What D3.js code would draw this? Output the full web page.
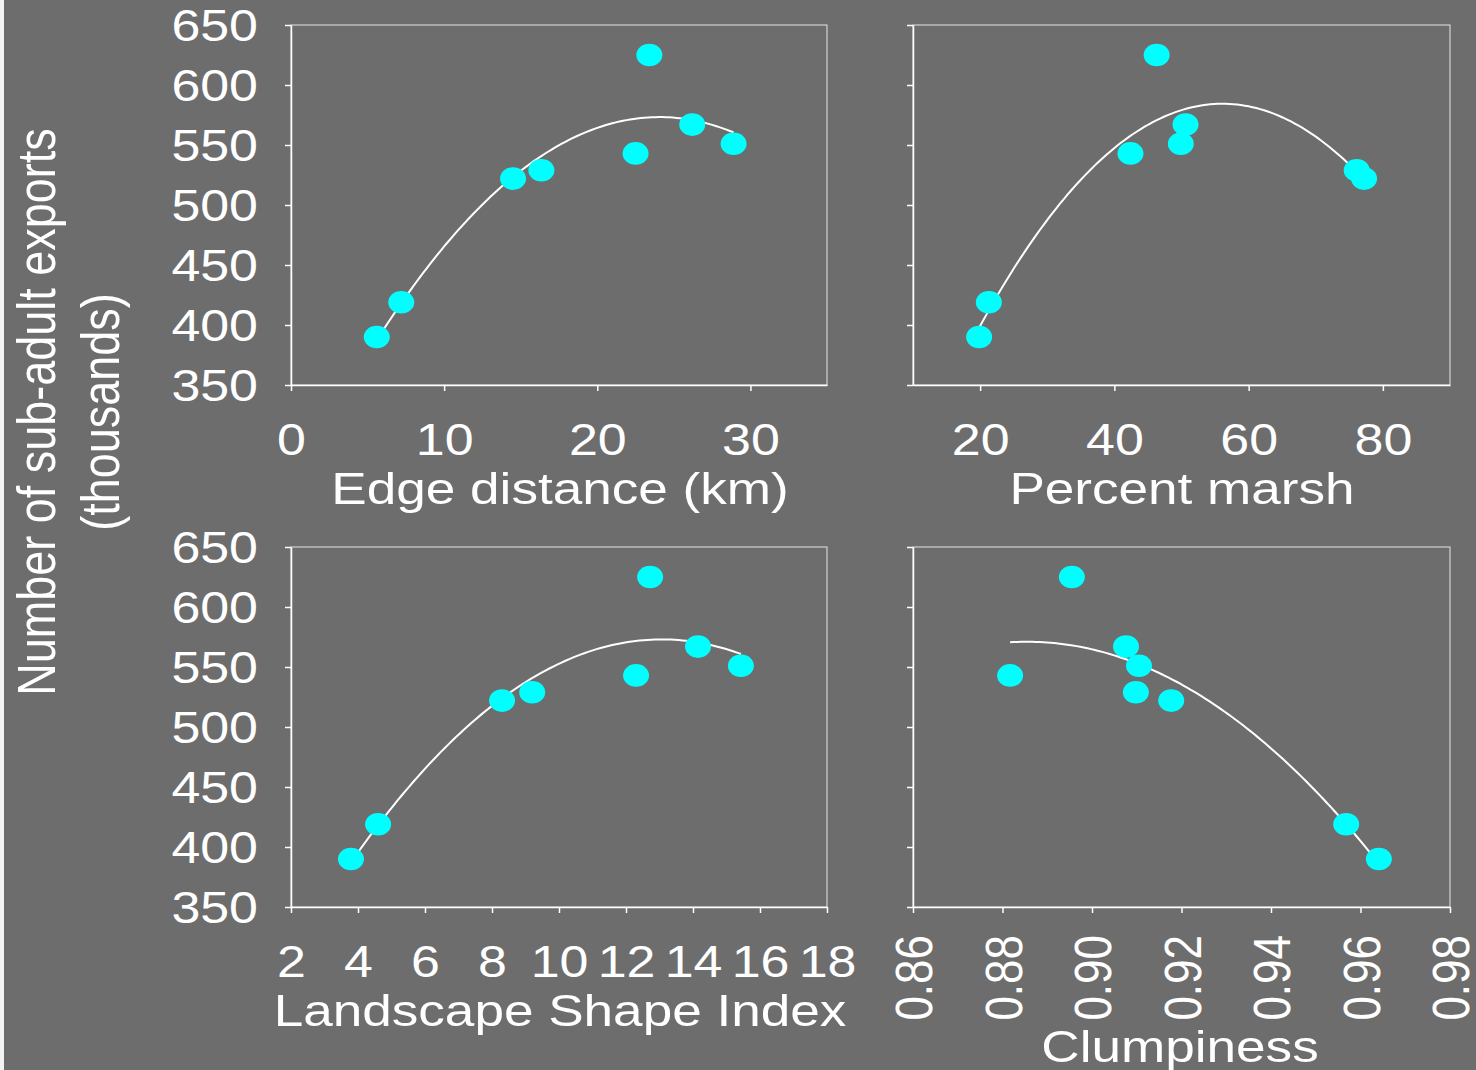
<!DOCTYPE html>
<html lang="en">
<head>
    <meta charset="UTF-8">
    <title>Sub-adult exports</title>
    <script src="https://cdn.jsdelivr.net/npm/d3@7"></script>
    <style>
        body { margin: 0; background: #6d6d6d; }
        svg { display: block; }
        text { font-family: "Liberation Sans", Arial, sans-serif; fill: #fff; }
    </style>
</head>
<body>
<svg width="1476" height="1070"></svg>
<script>
    // one y series, shared by the four panels
    const exportsK = [390, 419, 522, 529, 543, 625, 567, 551];
    const edgeDistance = [5.6, 7.2, 14.5, 16.35, 22.5, 23.4, 26.2, 28.9];
    const percentMarsh = [19.85, 21.3, 77.2, 76.1, 42.4, 46.3, 50.6, 49.9];
    const shapeIndex = [3.79, 4.6, 8.3, 9.2, 12.3, 12.72, 14.15, 15.43];
    const clumpiness = [0.9641, 0.9568, 0.9177, 0.9098, 0.8817, 0.8955, 0.9076, 0.9105];

    const yTicks = [350, 400, 450, 500, 550, 600, 650];
    const edgeTicks = [0, 10, 20, 30];
    const marshTicks = [20, 40, 60, 80];
    const shapeTicks = [2, 4, 6, 8, 10, 12, 14, 16, 18];
    const clumpTicks = [0.86, 0.88, 0.90, 0.92, 0.94, 0.96, 0.98];

    const SX = 1.18; // the source picture is stretched sideways
    const svg = d3.select("svg");

    svg.append("rect").attr("x", 0).attr("y", 0).attr("width", 4).attr("height", 1070).attr("fill", "#f4f4f4");

    // least squares, order 2
    function quadFit(xs, ys) {
        const n = xs.length;
        let s = [0, 0, 0, 0, 0], t = [0, 0, 0];
        for (let i = 0; i < n; i++) {
            for (let k = 0; k < 5; k++) s[k] += Math.pow(xs[i], k);
            for (let k = 0; k < 3; k++) t[k] += ys[i] * Math.pow(xs[i], k);
        }
        const m = [[s[0], s[1], s[2], t[0]], [s[1], s[2], s[3], t[1]], [s[2], s[3], s[4], t[2]]];
        for (let c = 0; c < 3; c++) {
            for (let r = c + 1; r < 3; r++) {
                const f = m[r][c] / m[c][c];
                for (let k = c; k < 4; k++) m[r][k] -= f * m[c][k];
            }
        }
        const b = [0, 0, 0];
        for (let r = 2; r >= 0; r--) {
            let v = m[r][3];
            for (let k = r + 1; k < 3; k++) v -= m[r][k] * b[k];
            b[r] = v / m[r][r];
        }
        return x => b[0] + b[1] * x + b[2] * x * x;
    }

    function panel(opt) {
        const g = svg.append("g");
        const x = d3.scaleLinear().domain(opt.xDomain).range([opt.left, opt.right]);
        const y = d3.scaleLinear().domain([350, 650]).range([opt.bottom, opt.top]);

        g.append("rect")
            .attr("x", opt.left).attr("y", opt.top)
            .attr("width", opt.right - opt.left).attr("height", opt.bottom - opt.top)
            .attr("fill", "none").attr("stroke", "#e6e6e6").attr("stroke-width", 1);

        const ya = g.append("g")
            .attr("transform", `translate(${opt.left},0)`)
            .call(d3.axisLeft(y).tickValues(yTicks).tickSize(6).tickSizeOuter(0));
        ya.select(".domain").attr("stroke", "#fff").attr("stroke-width", 1.5);
        ya.selectAll(".tick line").attr("stroke", "#fff").attr("stroke-width", 1.5);
        if (opt.yLabels) {
            ya.selectAll(".tick text")
                .attr("x", 0).attr("dy", "0.36em")
                .attr("transform", `translate(-33,0) scale(${SX},1)`)
                .attr("font-size", 44).attr("fill", "#fff")
                .attr("font-family", "Liberation Sans, Arial, sans-serif");
        } else {
            ya.selectAll(".tick text").remove();
        }

        const xa = g.append("g")
            .attr("transform", `translate(0,${opt.bottom})`)
            .call(d3.axisBottom(x).tickValues(opt.xTicks).tickSize(6).tickSizeOuter(0).tickFormat(opt.fmt || d3.format("d")));
        xa.select(".domain").attr("stroke", "#fff").attr("stroke-width", 1.5);
        xa.selectAll(".tick line").attr("stroke", "#fff").attr("stroke-width", 1.5);
        const xt = xa.selectAll(".tick text")
            .attr("font-size", 44).attr("fill", "#fff")
            .attr("font-family", "Liberation Sans, Arial, sans-serif");
        if (opt.rotate) {
            xt.attr("x", 0).attr("y", 0).attr("dy", 0)
                .attr("text-anchor", "end")
                .attr("transform", `translate(18.5,28) scale(${SX},1) rotate(-90)`);
        } else {
            xt.attr("x", 0).attr("y", 0).attr("dy", 0)
                .attr("transform", `translate(0,70) scale(${SX},1)`);
        }

        // fitted trend over the range of the points
        const f = quadFit(opt.xs, exportsK);
        const [x0, x1] = d3.extent(opt.xs);
        const line = d3.line().x(d => x(d)).y(d => y(f(d)));
        g.append("path")
            .datum(d3.range(0, 101).map(i => x0 + (x1 - x0) * i / 100))
            .attr("d", line)
            .attr("fill", "none").attr("stroke", "#fff").attr("stroke-width", 2);

        g.selectAll(".pt")
            .data(opt.xs.map((v, i) => [v, exportsK[i]]))
            .join("ellipse")
            .attr("cx", d => x(d[0])).attr("cy", d => y(d[1]))
            .attr("rx", 13).attr("ry", 11.3)
            .attr("fill", "#00ffff");

        svg.append("text")
            .attr("transform", `translate(${opt.titleX},${opt.titleY}) scale(${SX},1)`)
            .attr("text-anchor", "middle")
            .attr("font-size", 45)
            .text(opt.title);
    }

    panel({left: 291, right: 827, top: 25, bottom: 385, xDomain: [0, 35], xTicks: edgeTicks,
        xs: edgeDistance, yLabels: true, title: "Edge distance (km)", titleX: 560, titleY: 504});
    panel({left: 913, right: 1450, top: 25, bottom: 385, xDomain: [10, 90], xTicks: marshTicks,
        xs: percentMarsh, yLabels: false, title: "Percent marsh", titleX: 1182, titleY: 504});
    panel({left: 291, right: 827, top: 547, bottom: 907, xDomain: [2, 18], xTicks: shapeTicks,
        xs: shapeIndex, yLabels: true, title: "Landscape Shape Index", titleX: 560, titleY: 1026});
    panel({left: 913, right: 1450, top: 547, bottom: 907, xDomain: [0.86, 0.98], xTicks: clumpTicks,
        xs: clumpiness, yLabels: false, rotate: true, fmt: d3.format(".2f"),
        title: "Clumpiness", titleX: 1180, titleY: 1062});

    svg.append("text")
        .attr("transform", `translate(55,412) scale(${SX},1) rotate(-90)`)
        .attr("text-anchor", "middle").attr("font-size", 45)
        .text("Number of sub-adult exports");
    svg.append("text")
        .attr("transform", `translate(119,412) scale(${SX},1) rotate(-90)`)
        .attr("text-anchor", "middle").attr("font-size", 45)
        .text("(thousands)");
</script>
</body>
</html>
